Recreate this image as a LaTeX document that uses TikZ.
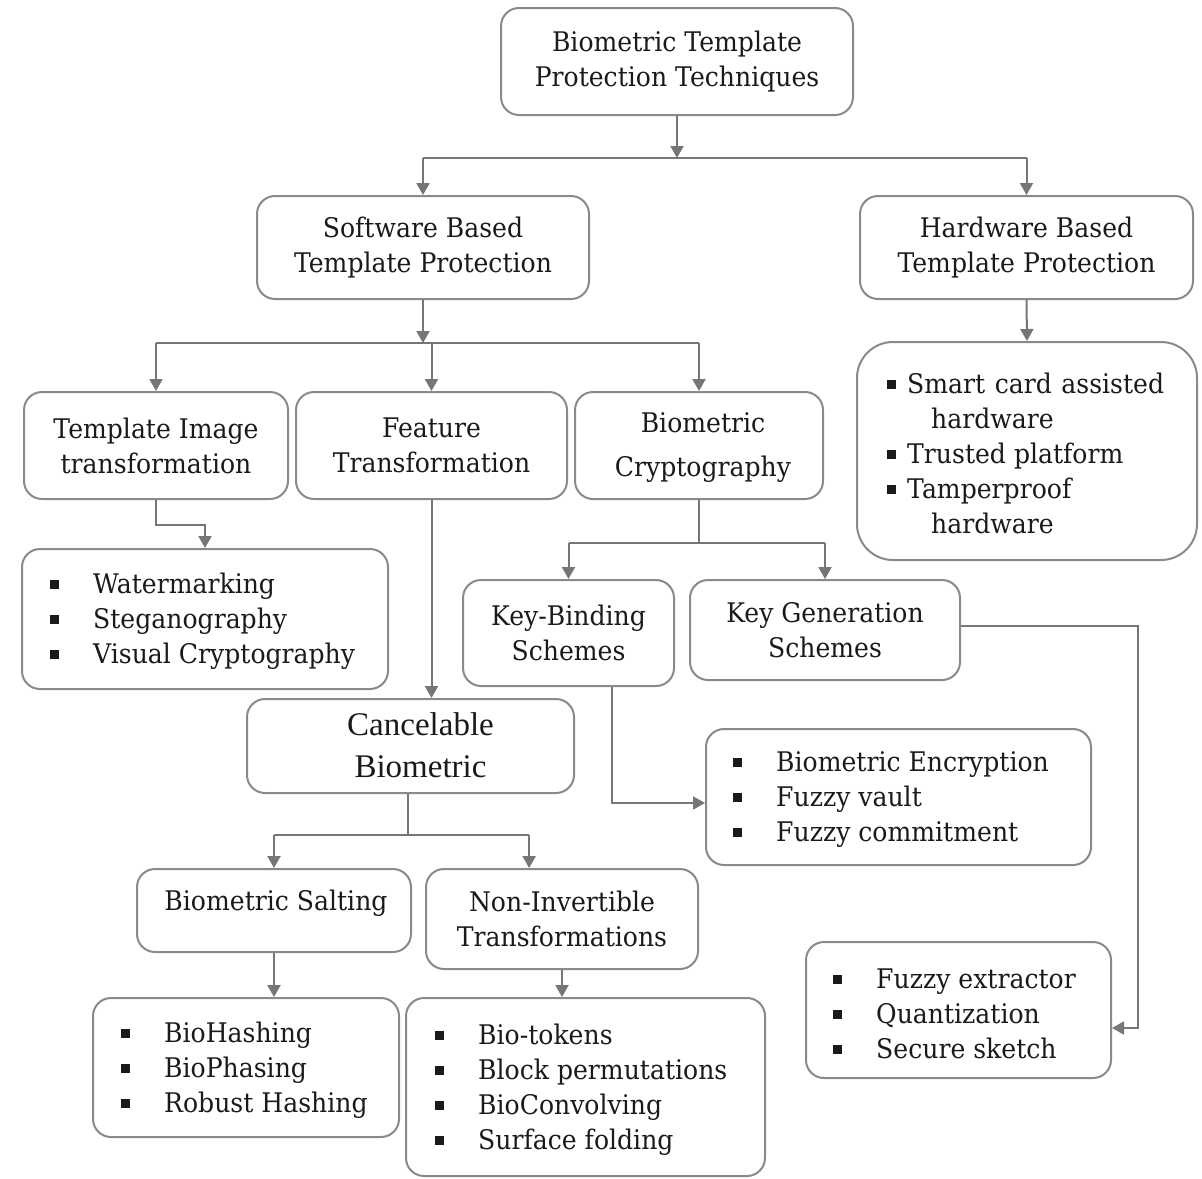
\documentclass[tikz,border=0pt]{standalone}
\usepackage{fontspec}
\setmainfont{DejaVu Serif}[FakeStretch=0.93]
\newfontfamily\timesfont{Liberation Serif}
\usetikzlibrary{arrows.meta,calc}
\definecolor{boxgray}{HTML}{8A8A8A}
\definecolor{linkgray}{HTML}{767676}
\definecolor{ink}{HTML}{1A1A1A}
\newcommand\sqbul{\rule[4.5pt]{9pt}{9pt}}
\newcommand\li[1]{\makebox[43pt][l]{\sqbul}#1}
\newcommand\hli[1]{\makebox[20pt][l]{\sqbul}#1}
\begin{document}
\begin{tikzpicture}[x=1pt,y=-1pt,
  box/.style={draw=boxgray, line width=2pt, rounded corners=18pt, inner sep=0pt,
    align=center, text=ink, font=\fontsize{27}{35}\selectfont},
  lst/.style={inner sep=0pt, align=left, anchor=west, text=ink,
    font=\fontsize{27}{35}\selectfont},
  link/.style={draw=linkgray, line width=2pt},
  arr/.style={link, -{Triangle[width=13pt,length=12pt]}}]
\useasboundingbox[fill=white] (0,0) rectangle (1202,1178);

% ---- boxes ----
\node[box, minimum width=352, minimum height=107] (top) at (677,61.5)
  {Biometric Template\\Protection Techniques};
\node[box, minimum width=332, minimum height=103] (soft) at (423,247.5)
  {Software Based\\Template Protection};
\node[box, minimum width=333, minimum height=103] (hard) at (1026.5,247.5)
  {Hardware Based\\Template Protection};
\node[box, minimum width=340, minimum height=218, rounded corners=36] (hw) at (1027,451) {};
\node[box, minimum width=264, minimum height=107] (tit) at (156,445.5)
  {Template Image\\transformation};
\node[box, minimum width=271, minimum height=107] (ft) at (431.5,445.5)
  {Feature\\Transformation};
\node[box, minimum width=248, minimum height=107] (bc) at (699,445.5) {};
\node[box, minimum width=366, minimum height=140] (wm) at (205,619) {};
\node[box, minimum width=327, minimum height=94] (canc) at (410.5,746) {};
\node[box, minimum width=274, minimum height=83] (salt) at (274,910.5) {};
\node[box, minimum width=272, minimum height=100] (ninv) at (562,919)
  {Non-Invertible\\Transformations};
\node[box, minimum width=306, minimum height=139] (bh) at (246,1067.5) {};
\node[box, minimum width=359, minimum height=178] (bt) at (585.5,1087) {};
\node[box, minimum width=211, minimum height=106] (kb) at (568.5,633)
  {Key-Binding\\Schemes};
\node[box, minimum width=270, minimum height=100] (kg) at (825,630)
  {Key Generation\\Schemes};
\node[box, minimum width=385, minimum height=136] (be) at (898.5,797) {};
\node[box, minimum width=305, minimum height=136] (fe) at (958.5,1010) {};

% ---- texts inside boxes ----
\node[lst, anchor=center, align=center] (bctxt) at ($(bc.center)+(4,2)$)
  {Biometric\\[9pt]Cryptography};
\node[lst, anchor=center, align=center,
  font=\timesfont\fontsize{33}{42}\selectfont] (canctxt) at ($(canc.center)+(10,-1)$)
  {Cancelable\\Biometric};
\node[lst, anchor=center] (salttxt) at ($(salt.center)+(2,-7)$) {Biometric Salting};
\node[lst] (hwtxt) at ($(hw.west)+(31,2.5)$)
  {\hli{\makebox[257pt][s]{Smart card assisted}}\\
   \hspace{44pt}hardware\\
   \hli{Trusted platform}\\
   \hli{Tamperproof}\\
   \hspace{44pt}hardware};
\node[lst] (wmtxt) at ($(wm.west)+(29,2)$)
  {\li{Watermarking}\\\li{Steganography}\\\li{Visual Cryptography}};
\node[lst] (bhtxt) at ($(bh.west)+(29,2.5)$)
  {\li{BioHashing}\\\li{BioPhasing}\\\li{Robust Hashing}};
\node[lst] (bttxt) at ($(bt.west)+(30,2.5)$)
  {\li{Bio-tokens}\\\li{Block permutations}\\\li{BioConvolving}\\\li{Surface folding}};
\node[lst] (betxt) at ($(be.west)+(28,3)$)
  {\li{Biometric Encryption}\\\li{Fuzzy vault}\\\li{Fuzzy commitment}};
\node[lst] (fetxt) at ($(fe.west)+(28,3.5)$)
  {\li{Fuzzy extractor}\\\li{Quantization}\\\li{Secure sketch}};

% ---- connectors ----
\coordinate (b1) at (677,158);
\draw[arr] (top.south) -- (b1);
\draw[link] (b1 -| soft.north) -- (b1 -| hard.north);
\draw[arr] (b1 -| soft.north) -- (soft.north);
\draw[arr] (b1 -| hard.north) -- (hard.north);
\draw[arr] (hard.south) -- (hw.north);

\coordinate (b2) at (423,343);
\draw[arr] (soft.south) -- (b2);
\draw[link] (b2 -| tit.north) -- (b2 -| bc.north);
\draw[arr] (b2 -| tit.north) -- (tit.north);
\draw[arr] (b2 -| ft.north) -- (ft.north);
\draw[arr] (b2 -| bc.north) -- (bc.north);

\coordinate (j1) at (156,525);
\draw[arr] (tit.south) -- (j1) -| (wm.north);
\draw[arr] (ft.south) -- (ft.south |- canc.north);

\coordinate (b3) at (408,835);
\coordinate (ninvin) at ($(ninv.north west)!0.38!(ninv.north east)$);
\draw[link] (canc.south -| b3) -- (b3);
\draw[link] (b3 -| salt.north) -- (b3 -| ninvin);
\draw[arr] (b3 -| salt.north) -- (salt.north);
\draw[arr] (b3 -| ninvin) -- (ninvin);
\draw[arr] (salt.south) -- (salt.south |- bh.north);
\draw[arr] (ninv.south) -- (ninv.south |- bt.north);

\coordinate (b4) at (699,543);
\draw[link] (bc.south) -- (b4);
\draw[link] (b4 -| kb.north) -- (b4 -| kg.north);
\draw[arr] (b4 -| kb.north) -- (kb.north);
\draw[arr] (b4 -| kg.north) -- (kg.north);

\draw[arr] ($(kb.south west)!0.705!(kb.south east)$) |- ($(be.west)+(0,6)$);
\coordinate (c1) at (1138,626);
\draw[arr] (kg.east |- c1) -- (c1) |- ($(fe.east)+(0,18)$);
\end{tikzpicture}
\end{document}
